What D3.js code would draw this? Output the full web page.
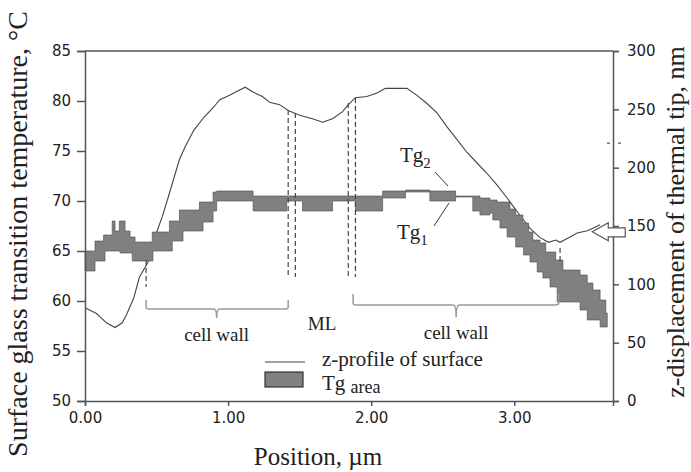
<!DOCTYPE html>
<html>
<head>
<meta charset="utf-8">
<script src="https://d3js.org/d3.v7.min.js"></script>
<style>
  body { margin: 0; background: #fff; }
  .tick text { font-family: "DejaVu Sans", sans-serif; font-size: 15px; fill: #222; }
  .serif { font-family: "Liberation Serif", "Times New Roman", serif; fill: #222; }
</style>
</head>
<body>
<svg id="chart"></svg>
<script>
const width = 691;
const height = 472;

// Tg band (stepped): position in um, lower (Tg1) and upper (Tg2) in degC
const tgPos = [0.00, 0.07, 0.13, 0.14, 0.19, 0.21, 0.24, 0.245, 0.28, 0.315, 0.33, 0.35, 0.47, 0.475,
  0.59, 0.61, 0.66, 0.685, 0.80, 0.825, 0.895, 0.92, 1.175, 1.41, 1.52, 1.73, 1.89, 2.08, 2.24, 2.41,
  2.59, 2.71, 2.76, 2.83, 2.85, 2.88, 2.90, 2.95, 2.97, 3.01, 3.06, 3.065, 3.10, 3.11, 3.13, 3.16,
  3.18, 3.20, 3.22, 3.25, 3.29, 3.30, 3.34, 3.46, 3.51, 3.55, 3.60, 3.64, 3.65];
const tg2 = [65, 66, 66.6, 66.6, 68, 67, 68, 68, 67, 66.4, 66.4, 65.9, 66.9, 66.9,
  68, 68, 69.1, 69.1, 69.9, 69.9, 70.9, 71, 70.5, 70.5, 70.5, 70.5, 70.5, 71, 71.1, 71,
  70.5, 70.5, 70.3, 70.1, 70.1, 69.9, 69.9, 69.9, 69.2, 68.6, 67.8, 67.8, 66.9, 66.9, 66.1, 66.1,
  65.8, 65.8, 64.9, 64.9, 64.1, 64.1, 63.1, 62.6, 61.8, 61.1, 60.1, 58.8, 58.8];
const tg1 = [63, 64, 64, 65, 65, 65, 65, 64.8, 64.8, 64.8, 64, 64, 64, 65,
  65, 66, 66, 67, 67, 67.9, 69, 70, 69, 70, 69, 70, 69, 70.3, 70.9, 70,
  70.4, 69, 68.6, 68.8, 68.1, 68.1, 67.3, 66.4, 66.4, 65.4, 65.4, 64.6, 64.6, 63.9, 63.9, 62.9,
  62.9, 62.3, 62.3, 61.4, 61.4, 59.9, 59.9, 59.1, 58.1, 58.1, 57.4, 57.4, 57.4];

// z-profile of surface: position in um, displacement in nm
const zPos = [0.00, 0.08, 0.15, 0.21, 0.26, 0.29, 0.34, 0.38, 0.44, 0.49, 0.54, 0.58, 0.66, 0.70,
  0.76, 0.83, 0.90, 0.94, 1.01, 1.07, 1.12, 1.17, 1.24, 1.29, 1.36, 1.42, 1.50, 1.59, 1.66, 1.73,
  1.80, 1.84, 1.89, 1.97, 2.04, 2.10, 2.18, 2.25, 2.32, 2.39, 2.46, 2.53, 2.60, 2.67, 2.74, 2.81,
  2.88, 2.95, 3.04, 3.11, 3.18, 3.24, 3.29, 3.32, 3.38, 3.44, 3.51, 3.55, 3.60];
const zNm = [80, 75, 67, 63, 67, 74, 88, 106, 119, 141, 158, 174, 207, 218,
  232, 243, 252, 258, 262, 266, 269, 265, 261, 256, 254, 249, 245, 242, 239, 242,
  248, 254, 260, 261, 264, 268, 268, 268, 262, 255, 247, 235, 224, 213, 204, 195,
  185, 174, 159, 148, 140, 136, 138, 136, 140, 144, 146, 148, 151];

const xTicks = [0, 1, 2, 3];
const leftTicks = [50, 55, 60, 65, 70, 75, 80, 85];
const rightTicks = [0, 50, 100, 150, 200, 250, 300];

// ML boundary dashed lines: position, top (degC)
const mlLines = [[1.42, 79.1], [1.47, 78.8], [1.84, 79.8], [1.89, 80.3]];

const svg = d3.select('#chart')
  .attr('width', width)
  .attr('height', height);

svg.append('rect').attr('width', width).attr('height', height).attr('fill', '#fff');

const x = d3.scaleLinear().domain([0, 3.69]).range([85, 613]);
const yL = d3.scaleLinear().domain([50, 85]).range([401, 51]);
const yR = d3.scaleLinear().domain([0, 300]).range([401, 51]);

// z-profile line (under the band)
const zLine = d3.line()
  .x((d, i) => x(zPos[i]))
  .y(d => yR(d));
svg.append('path')
  .datum(zNm)
  .attr('d', zLine)
  .attr('fill', 'none')
  .attr('stroke', '#444')
  .attr('stroke-width', 1.1);

// Tg area
const band = d3.area()
  .curve(d3.curveStepAfter)
  .x((d, i) => x(tgPos[i]))
  .y0((d, i) => yL(tg1[i]))
  .y1((d, i) => yL(tg2[i]));
svg.append('path')
  .datum(tgPos)
  .attr('d', band)
  .attr('fill', '#808080')
  .attr('stroke', '#484848')
  .attr('stroke-width', 0.6);

// dashed verticals
const dashes = svg.append('g')
  .attr('stroke', '#444')
  .attr('stroke-width', 1.2)
  .attr('stroke-dasharray', '5,3');
mlLines.forEach(d => {
  dashes.append('line')
    .attr('x1', x(d[0])).attr('x2', x(d[0]))
    .attr('y1', yL(d[1])).attr('y2', yL(62.4));
});
dashes.append('line').attr('x1', x(0.427)).attr('x2', x(0.427)).attr('y1', yL(64.1)).attr('y2', yL(61.4));
dashes.append('line').attr('x1', x(3.32)).attr('x2', x(3.32)).attr('y1', yL(65.3)).attr('y2', yL(63.9));

// braces
function brace(x0, x1, xm, yEnd, yBar, yTip) {
  const a = x(x0), b = x(x1), m = x(xm);
  const e = yL(yEnd), h = yL(yBar), t = yL(yTip);
  return `M${a},${e} L${a},${h - 2} Q${a},${h} ${a + 3},${h} L${m - 3},${h} Q${m},${h} ${m},${t}` +
    ` Q${m},${h} ${m + 3},${h} L${b - 3},${h} Q${b},${h} ${b},${h - 2} L${b},${e}`;
}
svg.append('path')
  .attr('d', brace(0.427, 1.42, 0.92, 60.1, 59.2, 58.3))
  .attr('fill', 'none').attr('stroke', '#999').attr('stroke-width', 1.5);
svg.append('path')
  .attr('d', brace(1.874, 3.31, 2.594, 60.7, 59.6, 58.4))
  .attr('fill', 'none').attr('stroke', '#999').attr('stroke-width', 1.5);

svg.append('text').attr('class', 'serif').attr('x', x(0.92)).attr('y', yL(56))
  .attr('text-anchor', 'middle').attr('font-size', 19).text('cell wall');
svg.append('text').attr('class', 'serif').attr('x', x(2.594)).attr('y', yL(56.2))
  .attr('text-anchor', 'middle').attr('font-size', 19).text('cell wall');
svg.append('text').attr('class', 'serif').attr('x', x(1.657)).attr('y', yL(57.1))
  .attr('text-anchor', 'middle').attr('font-size', 19).text('ML');

// Tg labels + leaders
const tgLab2 = svg.append('text').attr('class', 'serif').attr('x', 400).attr('y', 162).attr('font-size', 21);
tgLab2.append('tspan').text('Tg');
tgLab2.append('tspan').attr('font-size', 15).attr('dy', 6).text('2');
const tgLab1 = svg.append('text').attr('class', 'serif').attr('x', 397).attr('y', 239).attr('font-size', 21);
tgLab1.append('tspan').text('Tg');
tgLab1.append('tspan').attr('font-size', 15).attr('dy', 6).text('1');
svg.append('line').attr('x1', 435).attr('y1', 172).attr('x2', 448).attr('y2', 186)
  .attr('stroke', '#333').attr('stroke-width', 1);
svg.append('line').attr('x1', 434).attr('y1', 226).attr('x2', 449).attr('y2', 203)
  .attr('stroke', '#333').attr('stroke-width', 1);

// axes
const axisColor = '#555';
const gL = svg.append('g').attr('transform', `translate(${x(0)},0)`)
  .call(d3.axisLeft(yL).tickValues(leftTicks).tickSize(8).tickPadding(6));
const gR = svg.append('g').attr('transform', `translate(${x(3.69)},0)`)
  .call(d3.axisRight(yR).tickValues(rightTicks).tickSize(6).tickPadding(8));
const gB = svg.append('g').attr('transform', `translate(0,${yL(50)})`)
  .call(d3.axisBottom(x).tickValues(xTicks).tickFormat(d3.format('.2f')).tickSize(5).tickPadding(6));
[gL, gR, gB].forEach(g => {
  g.select('.domain').attr('stroke', axisColor).attr('stroke-width', 1.5);
  g.selectAll('.tick line').attr('stroke', axisColor).attr('stroke-width', 1.5);
});
svg.append('line')
  .attr('x1', x(0)).attr('x2', x(3.69)).attr('y1', yL(85)).attr('y2', yL(85))
  .attr('stroke', axisColor).attr('stroke-width', 1.5);

// stray mark near right axis
svg.append('line')
  .attr('x1', x(3.69) - 6).attr('x2', x(3.69) + 9).attr('y1', yR(221)).attr('y2', yR(221))
  .attr('stroke', '#555').attr('stroke-width', 1.2).attr('stroke-dasharray', '3,8');

// hollow arrow pointing at right axis
const ax = x(3.545), ay = yR(145);
svg.append('path')
  .attr('d', `M${ax},${ay} L${ax + 16},${ay - 9} L${ax + 16},${ay - 4} L${ax + 33},${ay - 4} L${ax + 33},${ay + 5} L${ax + 16},${ay + 5} L${ax + 16},${ay + 9} Z`)
  .attr('fill', '#fff').attr('stroke', '#555').attr('stroke-width', 1.2);

// legend
svg.append('line').attr('x1', 265).attr('x2', 305).attr('y1', 362).attr('y2', 362)
  .attr('stroke', '#444').attr('stroke-width', 1.2);
svg.append('text').attr('class', 'serif').attr('x', 322).attr('y', 366).attr('font-size', 21)
  .text('z-profile of surface');
svg.append('rect').attr('x', 265).attr('y', 372).attr('width', 38).attr('height', 15)
  .attr('fill', '#808080').attr('stroke', '#333').attr('stroke-width', 1.2);
const tgArea = svg.append('text').attr('class', 'serif').attr('x', 322).attr('y', 390).attr('font-size', 21);
tgArea.append('tspan').text('Tg ');
tgArea.append('tspan').attr('font-size', 18).attr('dy', 3).text('area');

// axis titles
svg.append('text').attr('class', 'serif')
  .attr('x', 318).attr('y', 465).attr('text-anchor', 'middle').attr('font-size', 25)
  .text('Position, µm');
svg.append('text').attr('class', 'serif')
  .attr('transform', 'translate(27,234) rotate(-90)')
  .attr('text-anchor', 'middle').attr('font-size', 28)
  .text('Surface glass transition temperature, °C');
svg.append('text').attr('class', 'serif')
  .attr('transform', 'translate(684,222) rotate(-90)')
  .attr('text-anchor', 'middle').attr('font-size', 26)
  .text('z-displacement of thermal tip, nm');
</script>
</body>
</html>
